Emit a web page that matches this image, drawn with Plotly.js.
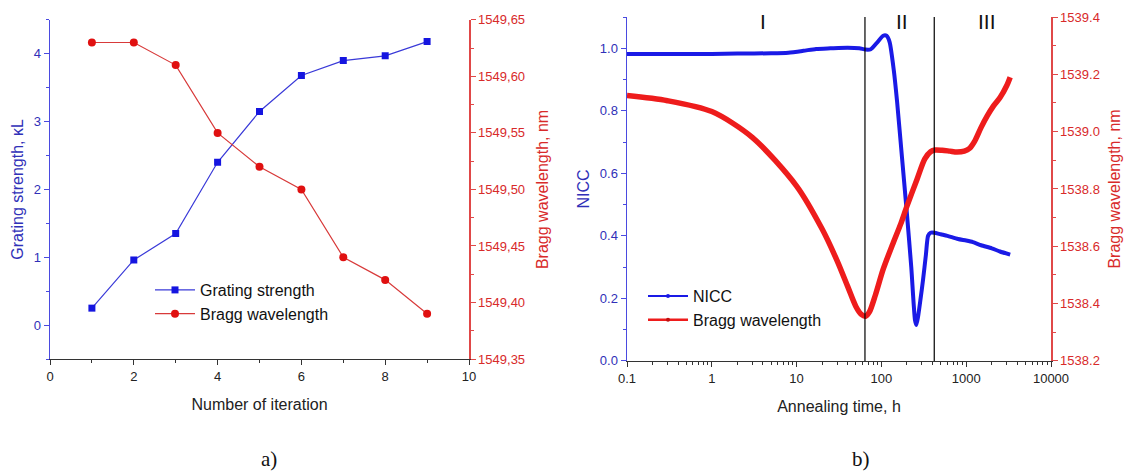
<!DOCTYPE html>
<html>
<head>
<meta charset="utf-8">
<script src="https://cdn.plot.ly/plotly-3.0.1.min.js"></script>
<style>html,body{margin:0;padding:0;background:#fff;}#chart{width:1131px;height:473px;}</style>
</head>
<body>
<div id="chart"></div>
<script>
// ---- Panel a) data ----
const iterations = [1, 2, 3, 4, 5, 6, 7, 8, 9];
const gratingStrength = [0.25, 0.96, 1.35, 2.40, 3.15, 3.68, 3.90, 3.97, 4.18];
const braggA = [1549.63, 1549.63, 1549.61, 1549.55, 1549.52, 1549.50, 1549.44, 1549.42, 1549.39];
const braggATicks = [1549.35, 1549.40, 1549.45, 1549.50, 1549.55, 1549.60, 1549.65];

// ---- Panel b) data ----
const timeNICC = [0.1, 0.2, 0.5, 1, 2, 5, 8, 12, 17, 25, 40, 55, 65, 75, 90, 105, 115, 125, 140, 153, 175, 200, 225, 249, 258, 270, 290, 310, 335, 355, 380, 420, 500, 600, 800, 1000, 1200, 1500, 2000, 2500, 3300];
const nicc = [0.982, 0.982, 0.982, 0.982, 0.983, 0.984, 0.986, 0.992, 0.998, 1.0, 1.002, 1.0, 0.996, 0.997, 1.02, 1.04, 1.04, 1.02, 0.93, 0.83, 0.65, 0.47, 0.30, 0.13, 0.115, 0.14, 0.20, 0.26, 0.34, 0.40, 0.41, 0.41, 0.405, 0.40, 0.39, 0.385, 0.38, 0.37, 0.36, 0.35, 0.34];
const timeBragg = [0.1, 0.3, 1, 3, 10, 20, 30, 40, 50, 58, 65, 72, 85, 105, 137, 170, 200, 264, 325, 380, 430, 520, 640, 780, 950, 1100, 1250, 1500, 1770, 2100, 2520, 3000, 3300];
const braggB = [1539.126, 1539.108, 1539.07, 1538.98, 1538.81, 1538.66, 1538.55, 1538.46, 1538.39, 1538.362, 1538.356, 1538.37, 1538.43, 1538.52, 1538.61, 1538.68, 1538.74, 1538.835, 1538.905, 1538.93, 1538.936, 1538.935, 1538.932, 1538.929, 1538.932, 1538.942, 1538.965, 1539.015, 1539.055, 1539.09, 1539.12, 1539.16, 1539.19];
const phaseBounds = [64, 420];
const phaseNames = ['I', 'II', 'III'];
const phaseNameX = [4, 175, 1760];
const logTicks = [0.1, 1, 10, 100, 1000, 10000];
const logTickText = ['0.1', '1', '10', '100', '1000', '10000'];

const BLUE = '#1a1ae6', RED = '#ee1c1c';
const BLUE_AX = '#4a4ae0', BLUE_TX = '#3030b8';
const RED_AX = '#e04848', RED_TX = '#d82a2a';
const FONT = 'Liberation Sans, Arial, sans-serif';

const minorLog = [];
for (let d = -1; d < 4; d++) for (let k = 2; k <= 9; k++) minorLog.push(k * Math.pow(10, d));

const traces = [
  {x: iterations, y: gratingStrength, xaxis: 'x', yaxis: 'y', name: 'Grating strength', mode: 'lines+markers',
   line: {color: '#3a3ad8', width: 1.2}, marker: {symbol: 'square', size: 7, color: '#1515e0'}, legend: 'legend'},
  {x: iterations, y: braggA, xaxis: 'x', yaxis: 'y2', name: 'Bragg wavelength', mode: 'lines+markers',
   line: {color: '#d83a3a', width: 1.2}, marker: {symbol: 'circle', size: 8, color: '#e01010'}, legend: 'legend'},
  {x: timeNICC, y: nicc, xaxis: 'x2', yaxis: 'y3', name: 'NICC', mode: 'lines', showlegend: false,
   line: {color: BLUE, width: 4, shape: 'spline', smoothing: 0.6}},
  {x: timeBragg, y: braggB, xaxis: 'x2', yaxis: 'y4', name: 'Bragg wavelength', mode: 'lines', showlegend: false,
   line: {color: RED, width: 5.5, shape: 'spline', smoothing: 0.8}},
  // legend-only entries (no data) so the key shows a thin line with a small dot, as in the original
  {x: [null], y: [null], xaxis: 'x2', yaxis: 'y3', name: 'NICC', mode: 'lines+markers',
   line: {color: BLUE, width: 2}, marker: {size: 4, color: BLUE}, legend: 'legend2'},
  {x: [null], y: [null], xaxis: 'x2', yaxis: 'y4', name: 'Bragg wavelength', mode: 'lines+markers',
   line: {color: RED, width: 2.5}, marker: {size: 4, color: '#c01010'}, legend: 'legend2'}
];

const shapes = phaseBounds.map(b => ({type: 'line', xref: 'x2', yref: 'y3', x0: b, x1: b, y0: 0, y1: 1.1,
  line: {color: '#000', width: 1.2}}));

const annotations = phaseNames.map((n, i) => ({text: n, xref: 'x2', yref: 'paper', x: Math.log10(phaseNameX[i]), y: 0.955,
  showarrow: false, font: {family: FONT, size: 21, color: '#111'}, yanchor: 'middle'}));
annotations.push({text: 'a)', xref: 'paper', yref: 'paper', x: 269 / 1131, y: 1 - 459 / 473, showarrow: false,
  xanchor: 'center', yanchor: 'middle', font: {family: 'Liberation Serif, Times New Roman, serif', size: 21, color: '#111'}});
annotations.push({text: 'b)', xref: 'paper', yref: 'paper', x: 861 / 1131, y: 1 - 459 / 473, showarrow: false,
  xanchor: 'center', yanchor: 'middle', font: {family: 'Liberation Serif, Times New Roman, serif', size: 21, color: '#111'}});

const tickFont = (c) => ({family: FONT, size: 13, color: c});
const titleFont = (c) => ({family: FONT, size: 16, color: c});

const layout = {
  width: 1131, height: 473, margin: {l: 0, r: 0, t: 0, b: 0},
  paper_bgcolor: '#fff', plot_bgcolor: '#fff', showlegend: true,
  font: {family: FONT},
  xaxis: {domain: [50 / 1131, 469 / 1131], anchor: 'y', range: [0, 10], dtick: 2, tick0: 0,
    ticks: 'outside', ticklen: 5, tickcolor: '#333', showline: true, linecolor: '#333', linewidth: 1.2,
    showgrid: false, zeroline: false, tickfont: tickFont('#222'),
    minor: {ticks: 'outside', ticklen: 3, dtick: 1, tickcolor: '#333'},
    title: {text: 'Number of iteration', font: titleFont('#222'), standoff: 16}},
  yaxis: {domain: [0.241, 0.958], anchor: 'x', range: [-0.5, 4.5], dtick: 1, tick0: 0,
    ticks: 'outside', ticklen: 5, tickcolor: BLUE_AX, showline: true, linecolor: BLUE_AX, linewidth: 1.5,
    showgrid: false, zeroline: false, tickfont: tickFont(BLUE_TX),
    minor: {ticks: 'outside', ticklen: 3, dtick: 0.5, tickcolor: BLUE_AX},
    title: {text: 'Grating strength, κL', font: titleFont(BLUE_TX), standoff: 6}},
  yaxis2: {overlaying: 'y', side: 'right', anchor: 'x', range: [1549.35, 1549.65],
    tickmode: 'array', tickvals: braggATicks, ticktext: braggATicks.map(v => v.toFixed(2).replace('.', ',')),
    ticks: 'outside', ticklen: 5, tickcolor: RED_AX, showline: true, linecolor: RED_AX, linewidth: 1.5,
    showgrid: false, zeroline: false, tickfont: tickFont(RED_TX),
    minor: {ticks: 'outside', ticklen: 3, dtick: 0.025, tickcolor: RED_AX},
    title: {text: 'Bragg wavelength, nm', font: titleFont(RED_TX), standoff: 12}},
  xaxis2: {domain: [627 / 1131, 1051 / 1131], anchor: 'y3', type: 'log', range: [-1, 4],
    tickmode: 'array', tickvals: logTicks, ticktext: logTickText,
    ticks: 'outside', ticklen: 5, tickcolor: '#333', showline: true, linecolor: '#333', linewidth: 1.2,
    showgrid: false, zeroline: false, tickfont: tickFont('#222'),
    minor: {ticks: 'outside', ticklen: 3, tickmode: 'array', tickvals: minorLog, tickcolor: '#333'},
    title: {text: 'Annealing time, h', font: titleFont('#222'), standoff: 16}},
  yaxis3: {domain: [0.237, 0.964], anchor: 'x2', range: [0, 1.1], dtick: 0.2, tick0: 0, tickformat: '.1f',
    ticks: 'outside', ticklen: 5, tickcolor: BLUE_AX, showline: true, linecolor: BLUE_AX, linewidth: 1.5,
    showgrid: false, zeroline: false, tickfont: tickFont(BLUE_TX),
    minor: {ticks: 'outside', ticklen: 3, dtick: 0.1, tickcolor: BLUE_AX},
    title: {text: 'NICC', font: titleFont(BLUE_TX), standoff: 6}},
  yaxis4: {overlaying: 'y3', side: 'right', anchor: 'x2', range: [1538.2, 1539.4], dtick: 0.2, tick0: 1538.2, tickformat: '.1f',
    ticks: 'outside', ticklen: 5, tickcolor: RED_AX, showline: true, linecolor: RED_AX, linewidth: 1.5,
    showgrid: false, zeroline: false, tickfont: tickFont(RED_TX),
    minor: {ticks: 'outside', ticklen: 3, dtick: 0.1, tickcolor: RED_AX},
    title: {text: 'Bragg wavelength, nm', font: titleFont(RED_TX), standoff: 10}},
  legend: {x: 150 / 1131, y: 1 - 273 / 473, xanchor: 'left', yanchor: 'top', bgcolor: 'rgba(0,0,0,0)',
    font: {family: FONT, size: 16, color: '#111'}, itemwidth: 40, tracegroupgap: 0},
  legend2: {x: 643 / 1131, y: 1 - 279 / 473, xanchor: 'left', yanchor: 'top', bgcolor: 'rgba(0,0,0,0)',
    font: {family: FONT, size: 16, color: '#111'}, itemwidth: 40, tracegroupgap: 0},
  shapes: shapes,
  annotations: annotations
};

Plotly.newPlot('chart', traces, layout, {staticPlot: true, displayModeBar: false});
</script>
</body>
</html>
